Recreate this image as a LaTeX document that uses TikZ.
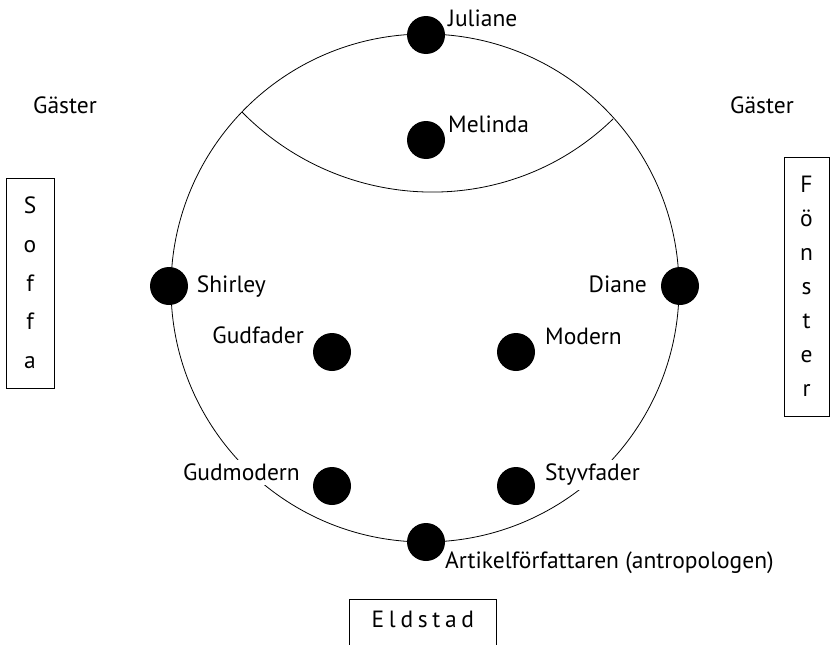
\documentclass[tikz,border=0pt]{standalone}
\usepackage{fontspec}
\setmainfont{PT Sans}
\usetikzlibrary{positioning}

\begin{document}
\begin{tikzpicture}[x=1pt, y=-1pt,
    seat/.style={circle, fill=black, inner sep=0pt, minimum size=38pt},
    who/.style={fill=white, inner sep=4pt, anchor=base west, font=\fontsize{23.5}{28}\selectfont},
    furniture/.style={draw, thick, inner sep=0pt, align=center}]
        \clip (0,0) rectangle (830,645);
        \fill[white] (0,0) rectangle (830,645);
        % the table and the inner group
        \draw[thick] (425,288) circle[radius=254pt];
        \coordinate (arcL) at (242,112);
        \coordinate (arcR) at (613,119);
        \draw[thick] (arcL) .. controls (343.4,215.1) and (509.3,219.9) .. (arcR);
        % labels
        \node[who] (tJul) at (444,26.7) {Juliane};
        \node[who] (tMel) at (444,132.7) {Melinda};
        \node[who] (tShi) at (192.7,292.7) {Shirley};
        \node[who, anchor=base east] (tDia) at (651,292.7) {Diane};
        \node[who, anchor=base east] (tGf) at (308,343.3) {Gudfader};
        \node[who] (tMod) at (541,344) {Modern};
        \node[who, anchor=base east] (tGm) at (304,480.7) {Gudmodern};
        \node[who] (tSty) at (541,480.7) {Styvfader};
        \node[who] (tArt) at (441,568) {Artikelförfattaren (antropologen)};
        \node[who] (gL) at (29,113) {Gäster};
        \node[who] (gR) at (726,113) {Gäster};
        % seats
        \node[seat] (jul) at (426,35) {};
        \node[seat] (mel) at (426,140) {};
        \node[seat] (shi) at (169,286) {};
        \node[seat] (dia) at (680,286) {};
        \node[seat] (gf) at (332,352) {};
        \node[seat] (mod) at (516,352) {};
        \node[seat] (gm) at (332,486) {};
        \node[seat] (sty) at (516,486) {};
        \node[seat] (art) at (426,542) {};
        % furniture
        \node[furniture, minimum width=48pt, minimum height=210pt,
              font=\fontsize{23.5}{38.7}\selectfont] (sofa) at (30,283) {S\\o\\f\\f\\a};
        \node[furniture, minimum width=45pt, minimum height=259pt,
              font=\fontsize{23.5}{33.9}\selectfont] (window) at (806.5,286.4) {F\\ö\\n\\s\\t\\e\\r};
        \node[furniture, anchor=north west, minimum width=147pt, text height=27.7pt, text depth=30pt,
              font=\fontsize{23.5}{28}\selectfont\addfontfeature{LetterSpace=20}] (hearth) at (349,599) {Eldstad};
      \end{tikzpicture}
\end{document}
